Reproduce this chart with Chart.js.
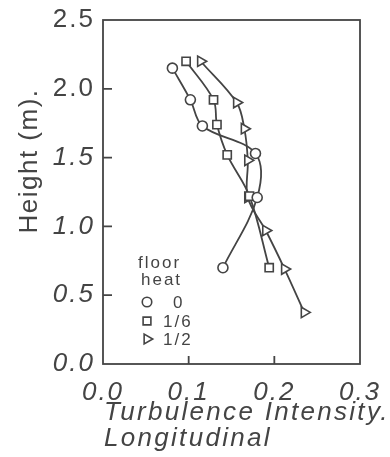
<!DOCTYPE html>
<html>
<head>
<meta charset="utf-8">
<script src="https://cdn.jsdelivr.net/npm/chart.js@4.4.0/dist/chart.umd.min.js"></script>
<style>
  html, body { margin: 0; padding: 0; background: #fff; }
  #wrap { width: 390px; height: 457px; }
</style>
</head>
<body>
<div id="wrap"><canvas id="c" width="390" height="457"></canvas></div>
<script>
// ---- data ----
const seriesNames = ["0", "1/6", "1/2"];
const legendTitle = ["floor", "heat"];
const xTitle = ["Turbulence Intensity.", "Longitudinal"];
const yTitle = "Height (m).";

const height0   = [2.15, 1.92, 1.73, 1.53, 1.21, 0.70];
const intens0   = [0.081, 0.102, 0.116, 0.178, 0.180, 0.140];

const height16  = [2.20, 1.92, 1.74, 1.52, 1.22, 0.70];
const intens16  = [0.097, 0.129, 0.133, 0.145, 0.171, 0.194];

const height12  = [2.20, 1.90, 1.71, 1.48, 1.21, 0.97, 0.69, 0.375];
const intens12  = [0.114, 0.156, 0.165, 0.169, 0.169, 0.190, 0.212, 0.235];

const xTicks = [0.0, 0.1, 0.2, 0.3];
const yTicks = [0.0, 0.5, 1.0, 1.5, 2.0, 2.5];

const INK = '#444444';
const FONT = '"Liberation Sans", Arial, sans-serif';

function pts(xs, ys) { return xs.map((x, i) => ({ x: x, y: ys[i] })); }

const styles = [
  { pointStyle: 'circle', pointRadius: 5, rotation: 0 },
  { pointStyle: 'rect', pointRadius: 5.8, rotation: 0 },
  { pointStyle: 'triangle', pointRadius: 6, rotation: 90 }
];

const datasets = [
  [intens0, height0], [intens16, height16], [intens12, height12]
].map((d, i) => ({
  label: seriesNames[i],
  data: pts(d[0], d[1]),
  showLine: true,
  tension: 0.35,
  borderColor: INK,
  borderWidth: 1.8,
  pointStyle: styles[i].pointStyle,
  pointRadius: styles[i].pointRadius,
  pointRotation: styles[i].rotation,
  pointBorderColor: INK,
  pointBorderWidth: 1.6,
  pointBackgroundColor: '#fff',
  pointHoverRadius: styles[i].pointRadius
}));

const spacingPlugin = {
  id: 'spacing',
  beforeInit(chart) { chart.ctx.letterSpacing = '2px'; },
  beforeUpdate(chart) { chart.ctx.letterSpacing = '2px'; },
  beforeDraw(chart) { chart.ctx.letterSpacing = '2px'; }
};

const framePlugin = {
  id: 'frame',
  afterDraw(chart) {
    const ctx = chart.ctx, a = chart.chartArea;
    const xs = chart.scales.x, ys = chart.scales.y;
    ctx.save();
    ctx.strokeStyle = INK;
    ctx.lineWidth = 1.8;
    ctx.strokeRect(a.left, a.top, a.right - a.left, a.bottom - a.top);
    // inward tick marks
    ctx.beginPath();
    yTicks.forEach(v => {
      if (v <= 0 || v >= 2.5) return;
      const py = ys.getPixelForValue(v);
      ctx.moveTo(a.left, py); ctx.lineTo(a.left + 9, py);
    });
    xTicks.forEach(v => {
      if (v <= 0 || v >= 0.3) return;
      const px = xs.getPixelForValue(v);
      ctx.moveTo(px, a.bottom); ctx.lineTo(px, a.bottom - 8);
    });
    ctx.stroke();

    // axis titles
    ctx.fillStyle = INK;
    ctx.letterSpacing = '1.5px';
    ctx.font = '26px ' + FONT;
    ctx.save();
    ctx.translate(37, 161);
    ctx.rotate(-Math.PI / 2);
    ctx.textAlign = 'center';
    ctx.textBaseline = 'alphabetic';
    ctx.fillText(yTitle, 0, 0);
    ctx.restore();

    ctx.letterSpacing = '2.3px';
    ctx.font = 'italic 26px ' + FONT;
    ctx.textAlign = 'left';
    ctx.textBaseline = 'alphabetic';
    ctx.fillText(xTitle[0], 104, 420);
    ctx.fillText(xTitle[1], 104, 446);

    // legend
    ctx.letterSpacing = '2px';
    ctx.font = '17px ' + FONT;
    ctx.fillText(legendTitle[0], 138, 268);
    ctx.fillText(legendTitle[1], 141, 285);
    const rows = [302, 321, 339];
    const labX = [173, 163, 163];
    datasets.forEach((ds, i) => {
      ctx.save();
      ctx.fillStyle = '#fff';
      ctx.strokeStyle = INK;
      ctx.lineWidth = 1.6;
      Chart.helpers.drawPoint(ctx, {
        pointStyle: ds.pointStyle,
        radius: ds.pointRadius * 0.95,
        rotation: ds.pointRotation,
        borderWidth: 1.6
      }, 147, rows[i]);
      ctx.restore();
      ctx.fillStyle = INK;
      ctx.fillText(ds.label, labX[i], rows[i] + 6);
    });
    ctx.restore();
  }
};

new Chart(document.getElementById('c'), {
  type: 'scatter',
  data: { datasets: datasets },
  plugins: [spacingPlugin, framePlugin],
  options: {
    responsive: false,
    animation: false,
    devicePixelRatio: 1,
    layout: { padding: { top: 20, right: 30, left: 0, bottom: 0 } },
    plugins: { legend: { display: false }, tooltip: { enabled: false } },
    elements: { point: { borderColor: INK } },
    scales: {
      x: {
        type: 'linear', min: 0, max: 0.3,
        afterFit(s) { s.height = 93; },
        afterBuildTicks(s) { s.ticks = xTicks.map(v => ({ value: v })); },
        grid: { display: false },
        border: { display: false },
        ticks: {
          padding: 5,
          color: INK,
          font: { family: FONT, size: 26, style: 'italic' },
          callback: v => v.toFixed(1)
        }
      },
      y: {
        type: 'linear', min: 0, max: 2.5,
        afterFit(s) { s.width = 103; },
        afterBuildTicks(s) { s.ticks = yTicks.map(v => ({ value: v })); },
        grid: { display: false },
        border: { display: false },
        ticks: {
          padding: 0,
          color: INK,
          font: (c) => ({ family: FONT, size: 26, style: (c.tick && c.tick.value >= 2) ? 'normal' : 'italic' }),
          callback: v => v.toFixed(1)
        }
      }
    }
  }
});
</script>
</body>
</html>
